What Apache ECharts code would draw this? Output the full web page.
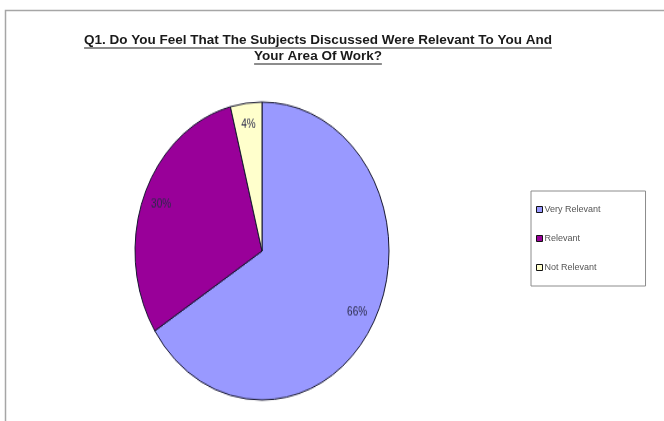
<!DOCTYPE html>
<html>
<head>
<meta charset="utf-8">
<script src="https://cdn.jsdelivr.net/npm/echarts@6/dist/echarts.min.js"></script>
<style>
  html, body { margin: 0; padding: 0; background: #ffffff; }
  #frame { position: absolute; left: 0; top: 0; width: 664px; height: 421px; }
  /* the pie is drawn round and stretched vertically into an ellipse */
  #pie { position: absolute; left: 112px; top: 101px; width: 300px; height: 300px;
         transform: scaleY(1.173); transform-origin: 50% 50%; }
</style>
</head>
<body>
<div id="frame"></div>
<div id="pie"></div>
<script>
// Survey question and answers
const titleLines = [
  'Q1. Do You Feel That The Subjects Discussed Were Relevant To You And',
  'Your Area Of Work?'
];
const categories = ['Very Relevant', 'Relevant', 'Not Relevant'];
const shares = [66, 30, 4];
const sliceColors = ['#9999FF', '#990099', '#FFFFCC'];

const FONT = '"Liberation Sans", Arial, sans-serif';
const titleFont = 'bold 13.5px ' + FONT;
const titleX = 318;
const titleY = [40, 56];

// measure title lines so the underline spans the text
const measureCtx = document.createElement('canvas').getContext('2d');
measureCtx.font = titleFont;
const titleWidths = titleLines.map(t => measureCtx.measureText(t).width);

const pieData = categories.map((name, i) => ({
  name: name,
  value: shares[i],
  itemStyle: { color: sliceColors[i] }
}));

// Frame: border, underlined title and legend
const frame = echarts.init(document.getElementById('frame'));
const graphics = [
  {
    type: 'rect', shape: { x: 5.5, y: 10.5, width: 720, height: 460 },
    style: { fill: 'none', stroke: '#a6a6a6', lineWidth: 1.5 }, silent: true
  }
];
titleLines.forEach((t, i) => {
  graphics.push({
    type: 'text', x: titleX, y: titleY[i], silent: true,
    style: { text: t, font: titleFont, fill: '#1a1a1a', align: 'center', verticalAlign: 'middle' }
  });
  graphics.push({
    type: 'line', silent: true,
    shape: { x1: titleX - titleWidths[i] / 2, y1: titleY[i] + 8, x2: titleX + titleWidths[i] / 2, y2: titleY[i] + 8 },
    style: { stroke: '#1a1a1a', lineWidth: 1 }
  });
});

frame.setOption({
  animation: false,
  backgroundColor: 'transparent',
  graphic: graphics,
  legend: {
    orient: 'vertical',
    left: 531,
    top: 191,
    data: categories,
    icon: 'rect',
    itemWidth: 6,
    itemHeight: 6,
    itemGap: 20,
    padding: [14, 45, 14, 5],
    borderColor: '#8c8c8c',
    borderWidth: 1,
    selectedMode: false,
    itemStyle: { borderColor: '#111', borderWidth: 1 },
    textStyle: { fontFamily: FONT, fontSize: 9, color: '#555', padding: [0, 0, 0, -3] }
  },
  series: [{
    type: 'pie', silent: true, center: [-200, -200], radius: 1,
    label: { show: false }, data: pieData
  }]
});

// Pie itself
const pie = echarts.init(document.getElementById('pie'));
const R = 127;
pie.setOption({
  animation: false,
  series: [
    {
      type: 'pie',
      center: ['50%', '50%'],
      radius: R,
      startAngle: 90,
      clockwise: true,
      silent: true,
      label: { show: false },
      labelLine: { show: false },
      itemStyle: { borderColor: '#14142e', borderWidth: 1 },
      data: pieData
    },
    {
      // transparent ring that carries the percentage labels near the rim
      type: 'pie',
      center: ['50%', '50%'],
      radius: [Math.round(R * 0.66), R],
      startAngle: 90,
      clockwise: true,
      silent: true,
      itemStyle: { color: 'rgba(0,0,0,0)', borderWidth: 0 },
      label: {
        show: true, position: 'inside', formatter: '{c}%',
        fontFamily: FONT, fontSize: 10, color: '#2a2a4a'
      },
      labelLine: { show: false },
      data: categories.map((name, i) => ({ name: name, value: shares[i] }))
    }
  ]
});
</script>
</body>
</html>
